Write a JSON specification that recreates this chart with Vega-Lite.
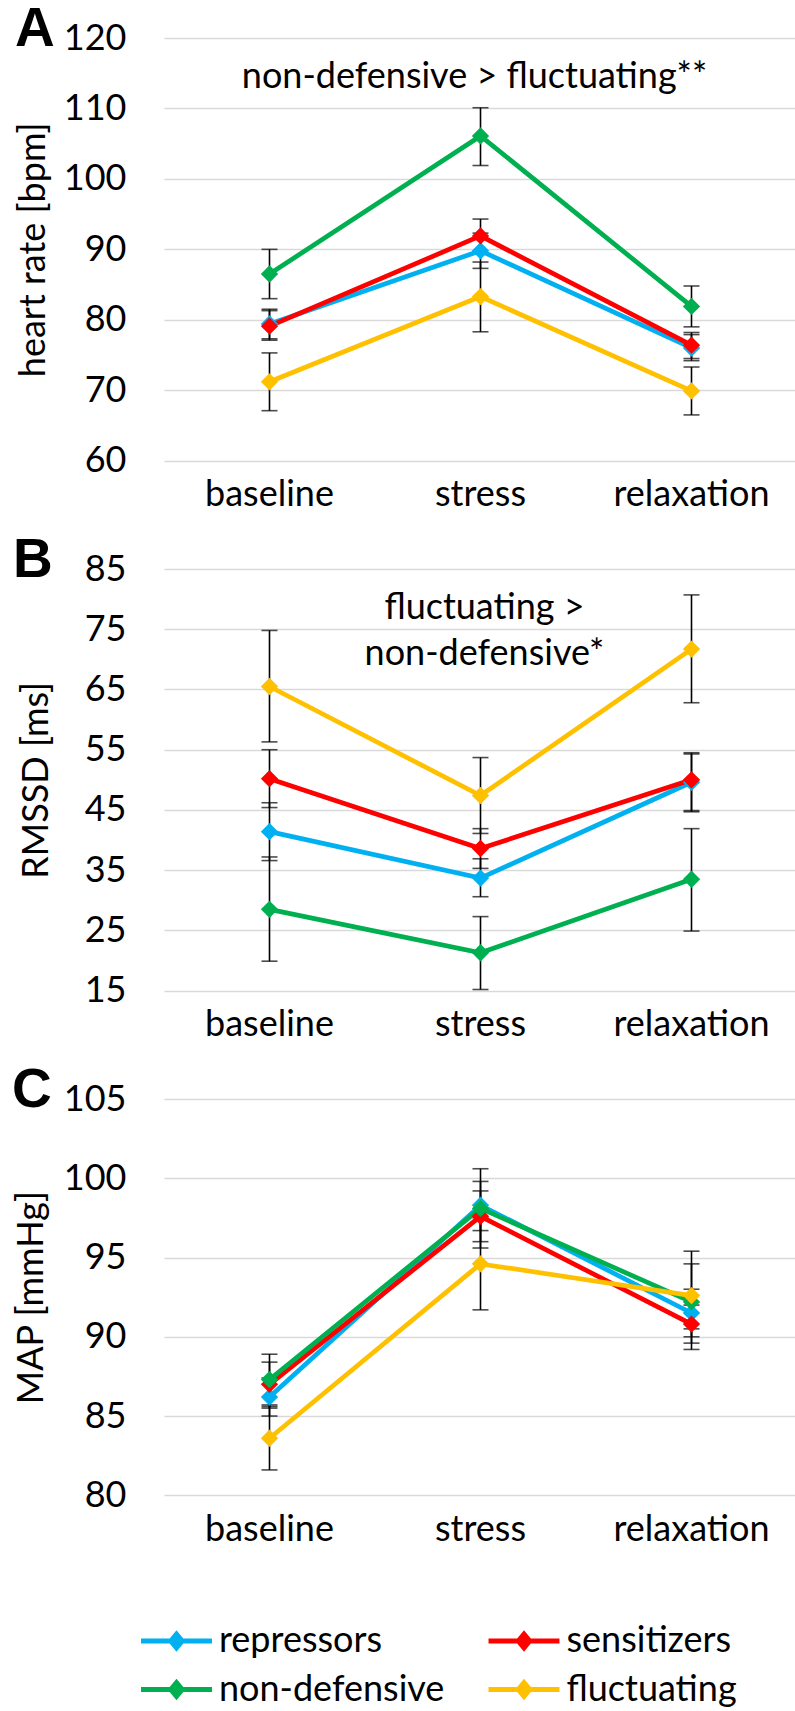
{
  "$schema": "https://vega.github.io/schema/vega-lite/v6.json",
  "padding": {"left": 12, "top": 2, "right": 0, "bottom": 0},
  "background": "white",
  "datasets": {
    "d": [
      {"panel": "A", "step": "baseline", "group": "repressors", "mean": 79.4, "lo": 77.3, "hi": 81.5},
      {"panel": "A", "step": "stress", "group": "repressors", "mean": 89.8, "lo": 87.3, "hi": 92.3},
      {"panel": "A", "step": "relaxation", "group": "repressors", "mean": 76.0, "lo": 74.2, "hi": 77.9},
      {"panel": "A", "step": "baseline", "group": "sensitizers", "mean": 79.1, "lo": 77.1, "hi": 81.3},
      {"panel": "A", "step": "stress", "group": "sensitizers", "mean": 91.9, "lo": 89.5, "hi": 94.3},
      {"panel": "A", "step": "relaxation", "group": "sensitizers", "mean": 76.4, "lo": 74.5, "hi": 78.2},
      {"panel": "A", "step": "baseline", "group": "non-defensive", "mean": 86.5, "lo": 83.0, "hi": 90.0},
      {"panel": "A", "step": "stress", "group": "non-defensive", "mean": 106.1, "lo": 101.9, "hi": 110.1},
      {"panel": "A", "step": "relaxation", "group": "non-defensive", "mean": 81.9, "lo": 79.0, "hi": 84.8},
      {"panel": "A", "step": "baseline", "group": "fluctuating", "mean": 71.2, "lo": 67.1, "hi": 75.3},
      {"panel": "A", "step": "stress", "group": "fluctuating", "mean": 83.3, "lo": 78.3, "hi": 88.2},
      {"panel": "A", "step": "relaxation", "group": "fluctuating", "mean": 69.9, "lo": 66.5, "hi": 73.3},

      {"panel": "B", "step": "baseline", "group": "repressors", "mean": 41.4, "lo": 36.6, "hi": 46.2},
      {"panel": "B", "step": "stress", "group": "repressors", "mean": 33.7, "lo": 30.6, "hi": 36.9},
      {"panel": "B", "step": "relaxation", "group": "repressors", "mean": 49.6, "lo": 44.9, "hi": 54.3},
      {"panel": "B", "step": "baseline", "group": "sensitizers", "mean": 50.2, "lo": 45.4, "hi": 55.0},
      {"panel": "B", "step": "stress", "group": "sensitizers", "mean": 38.6, "lo": 35.3, "hi": 41.9},
      {"panel": "B", "step": "relaxation", "group": "sensitizers", "mean": 50.0, "lo": 44.7, "hi": 54.5},
      {"panel": "B", "step": "baseline", "group": "non-defensive", "mean": 28.5, "lo": 19.9, "hi": 37.2},
      {"panel": "B", "step": "stress", "group": "non-defensive", "mean": 21.3, "lo": 15.2, "hi": 27.3},
      {"panel": "B", "step": "relaxation", "group": "non-defensive", "mean": 33.5, "lo": 24.9, "hi": 41.9},
      {"panel": "B", "step": "baseline", "group": "fluctuating", "mean": 65.5, "lo": 56.3, "hi": 74.8},
      {"panel": "B", "step": "stress", "group": "fluctuating", "mean": 47.4, "lo": 41.1, "hi": 53.7},
      {"panel": "B", "step": "relaxation", "group": "fluctuating", "mean": 71.7, "lo": 62.8, "hi": 80.7},

      {"panel": "C", "step": "baseline", "group": "repressors", "mean": 86.2, "lo": 85.0, "hi": 87.4},
      {"panel": "C", "step": "stress", "group": "repressors", "mean": 98.3, "lo": 96.7, "hi": 99.8},
      {"panel": "C", "step": "relaxation", "group": "repressors", "mean": 91.5, "lo": 90.0, "hi": 93.0},
      {"panel": "C", "step": "baseline", "group": "sensitizers", "mean": 87.0, "lo": 85.5, "hi": 88.4},
      {"panel": "C", "step": "stress", "group": "sensitizers", "mean": 97.6, "lo": 96.0, "hi": 99.2},
      {"panel": "C", "step": "relaxation", "group": "sensitizers", "mean": 90.8, "lo": 89.6, "hi": 92.0},
      {"panel": "C", "step": "baseline", "group": "non-defensive", "mean": 87.3, "lo": 85.7, "hi": 88.9},
      {"panel": "C", "step": "stress", "group": "non-defensive", "mean": 98.1, "lo": 95.6, "hi": 100.6},
      {"panel": "C", "step": "relaxation", "group": "non-defensive", "mean": 92.2, "lo": 89.2, "hi": 95.4},
      {"panel": "C", "step": "baseline", "group": "fluctuating", "mean": 83.6, "lo": 81.6, "hi": 85.6},
      {"panel": "C", "step": "stress", "group": "fluctuating", "mean": 94.6, "lo": 91.7, "hi": 97.5},
      {"panel": "C", "step": "relaxation", "group": "fluctuating", "mean": 92.6, "lo": 90.5, "hi": 94.6}
    ],
    "notes": [
      {"panel": "A", "step": "stress", "y": 114.5, "label": "non-defensive > fluctuating**"},
      {"panel": "B", "step": "stress", "y": 78.5, "label": "fluctuating >\nnon-defensive*"}
    ]
  },
  "data": {"name": "d"},
  "spacing": 108,
  "bounds": "flush",
  "resolve": {"scale": {"color": "shared"}, "legend": {"color": "shared"}},
  "vconcat": [
    {
      "width": 633, "height": 422.7,
      "title": {"text": "A", "dx": -149, "dy": 42},
      "encoding": {
        "x": {"field": "step", "type": "nominal", "sort": ["baseline", "stress", "relaxation"], "scale": {"paddingInner": 0, "paddingOuter": 0}, "title": null}
      },
      "layer": [
        {"transform": [{"filter": "datum.panel === 'A'"}],
         "mark": {"type": "rule", "color": "black", "strokeWidth": 1.6},
         "encoding": {"y": {"field": "lo", "type": "quantitative", "title": "heart rate [bpm]", "scale": {"domain": [60, 120], "nice": false}, "axis": {"values": [60, 70, 80, 90, 100, 110, 120], "titlePadding": 11}}, "y2": {"field": "hi"}}},
        {"transform": [{"filter": "datum.panel === 'A'"}],
         "mark": {"type": "tick", "color": "black", "thickness": 1.6, "size": 16, "orient": "horizontal"},
         "encoding": {"y": {"field": "lo", "type": "quantitative", "title": "heart rate [bpm]"}}},
        {"transform": [{"filter": "datum.panel === 'A'"}],
         "mark": {"type": "tick", "color": "black", "thickness": 1.6, "size": 16, "orient": "horizontal"},
         "encoding": {"y": {"field": "hi", "type": "quantitative", "title": "heart rate [bpm]"}}},
        {"transform": [{"filter": "datum.panel === 'A'"}],
         "mark": {"type": "line", "strokeWidth": 4.7},
         "encoding": {"y": {"field": "mean", "type": "quantitative", "title": "heart rate [bpm]"}, "color": {"field": "group", "type": "nominal"}}},
        {"transform": [{"filter": "datum.panel === 'A'"}],
         "mark": {"type": "point", "shape": "diamond", "filled": true, "size": 300, "opacity": 1},
         "encoding": {"y": {"field": "mean", "type": "quantitative", "title": "heart rate [bpm]"}, "color": {"field": "group", "type": "nominal"}}},
        {"data": {"name": "notes"},
         "transform": [{"filter": "datum.panel === 'A'"}],
         "mark": {"type": "text", "fontSize": 36, "font": "Lato", "fontWeight": "normal", "align": "center", "baseline": "middle", "dx": -6, "color": "black"},
         "encoding": {"y": {"field": "y", "type": "quantitative", "title": "heart rate [bpm]"}, "text": {"field": "label"}}}
      ]
    },
    {
      "width": 633, "height": 421.7,
      "title": {"text": "B", "dx": -151, "dy": 42},
      "encoding": {
        "x": {"field": "step", "type": "nominal", "sort": ["baseline", "stress", "relaxation"], "scale": {"paddingInner": 0, "paddingOuter": 0}, "title": null}
      },
      "layer": [
        {"transform": [{"filter": "datum.panel === 'B'"}],
         "mark": {"type": "rule", "color": "black", "strokeWidth": 1.6},
         "encoding": {"y": {"field": "lo", "type": "quantitative", "title": "RMSSD [ms]", "scale": {"domain": [15, 85], "nice": false}, "axis": {"values": [15, 25, 35, 45, 55, 65, 75, 85], "titlePadding": 29}}, "y2": {"field": "hi"}}},
        {"transform": [{"filter": "datum.panel === 'B'"}],
         "mark": {"type": "tick", "color": "black", "thickness": 1.6, "size": 16, "orient": "horizontal"},
         "encoding": {"y": {"field": "lo", "type": "quantitative", "title": "RMSSD [ms]"}}},
        {"transform": [{"filter": "datum.panel === 'B'"}],
         "mark": {"type": "tick", "color": "black", "thickness": 1.6, "size": 16, "orient": "horizontal"},
         "encoding": {"y": {"field": "hi", "type": "quantitative", "title": "RMSSD [ms]"}}},
        {"transform": [{"filter": "datum.panel === 'B'"}],
         "mark": {"type": "line", "strokeWidth": 4.7},
         "encoding": {"y": {"field": "mean", "type": "quantitative", "title": "RMSSD [ms]"}, "color": {"field": "group", "type": "nominal"}}},
        {"transform": [{"filter": "datum.panel === 'B'"}],
         "mark": {"type": "point", "shape": "diamond", "filled": true, "size": 300, "opacity": 1},
         "encoding": {"y": {"field": "mean", "type": "quantitative", "title": "RMSSD [ms]"}, "color": {"field": "group", "type": "nominal"}}},
        {"data": {"name": "notes"},
         "transform": [{"filter": "datum.panel === 'B'"}],
         "mark": {"type": "text", "fontSize": 36, "font": "Lato", "fontWeight": "normal", "align": "center", "baseline": "middle", "dx": 4, "lineBreak": "\n", "lineHeight": 46, "color": "black"},
         "encoding": {"y": {"field": "y", "type": "quantitative", "title": "RMSSD [ms]"}, "text": {"field": "label"}}}
      ]
    },
    {
      "width": 633, "height": 396.3,
      "title": {"text": "C", "dx": -152, "dy": 42},
      "transform": [{"filter": "datum.panel === 'C'"}],
      "encoding": {
        "x": {"field": "step", "type": "nominal", "sort": ["baseline", "stress", "relaxation"], "scale": {"paddingInner": 0, "paddingOuter": 0}, "title": null}
      },
      "layer": [
        {"mark": {"type": "rule", "color": "black", "strokeWidth": 1.6},
         "encoding": {"y": {"field": "lo", "type": "quantitative", "title": "MAP [mmHg]", "scale": {"domain": [80, 105], "nice": false}, "axis": {"values": [80, 85, 90, 95, 100, 105], "titlePadding": 13}}, "y2": {"field": "hi"}}},
        {"mark": {"type": "tick", "color": "black", "thickness": 1.6, "size": 16, "orient": "horizontal"},
         "encoding": {"y": {"field": "lo", "type": "quantitative", "title": "MAP [mmHg]"}}},
        {"mark": {"type": "tick", "color": "black", "thickness": 1.6, "size": 16, "orient": "horizontal"},
         "encoding": {"y": {"field": "hi", "type": "quantitative", "title": "MAP [mmHg]"}}},
        {"mark": {"type": "line", "strokeWidth": 4.7},
         "encoding": {"y": {"field": "mean", "type": "quantitative", "title": "MAP [mmHg]"}, "color": {"field": "group", "type": "nominal"}}},
        {"mark": {"type": "point", "shape": "diamond", "filled": true, "size": 300, "opacity": 1},
         "encoding": {"y": {"field": "mean", "type": "quantitative", "title": "MAP [mmHg]"}, "color": {"field": "group", "type": "nominal",
           "scale": {"domain": ["repressors", "sensitizers", "non-defensive", "fluctuating"], "range": ["#00B0F0", "#FF0000", "#00B050", "#FFC000"]},
           "legend": {"title": null, "encode": {"symbols": {"update": {"fill": {"scale": "color", "field": "value"}, "stroke": {"scale": "color", "field": "value"}, "opacity": {"value": 1}}}}}}}}
      ]
    }
  ],
  "config": {
    "font": "Lato",
    "view": {"stroke": null},
    "title": {"font": "Liberation Sans", "fontWeight": "bold", "fontSize": 55, "anchor": "start", "frame": "group", "color": "black", "baseline": "alphabetic", "offset": 0},
    "axis": {"labelFont": "Lato", "titleFont": "Lato", "labelColor": "black", "titleColor": "black", "labelFontSize": 36, "titleFontSize": 36, "titleFontWeight": "normal", "domain": false, "ticks": false, "tickSize": 0},
    "axisX": {"grid": false, "labelPadding": 17, "labelAngle": 0},
    "axisY": {"grid": true, "gridColor": "#D9D9D9", "gridWidth": 1.5, "labelPadding": 38},
    "legend": {"orient": "none", "legendX": -6.5, "legendY": 1584, "columns": 2, "direction": "horizontal", "symbolType": "M-2.15,0H2.15M0,-0.42L0.35,0L0,0.42L-0.35,0Z", "symbolSize": 1089, "symbolStrokeWidth": 4.8, "labelFont": "Lato", "labelFontSize": 36, "labelColor": "black", "labelOffset": 23.5, "labelLimit": 0, "columnPadding": 33.5, "rowPadding": 11.5, "padding": 0}
  }
}
